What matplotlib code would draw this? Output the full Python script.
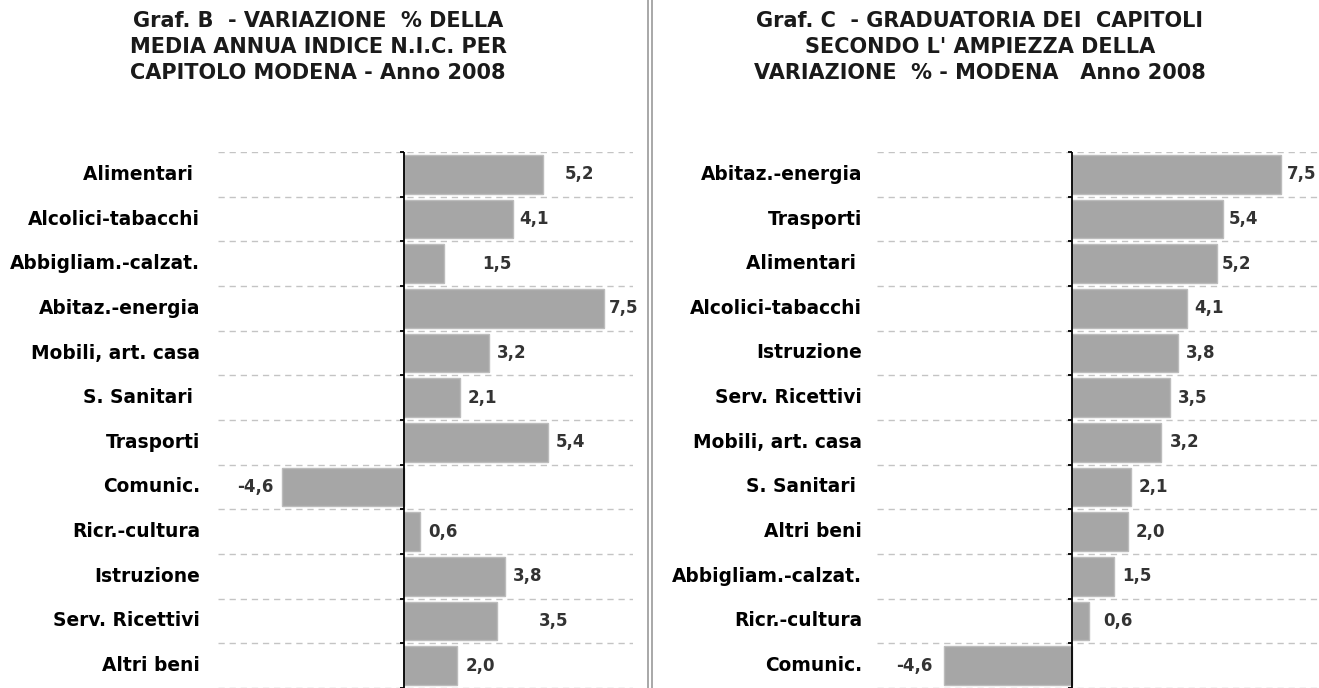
import matplotlib
matplotlib.use("Agg")
import matplotlib.pyplot as plt
from matplotlib.lines import Line2D
import matplotlib.transforms as mtransforms

# ---------------- data ----------------
cats_b = ["Alimentari ", "Alcolici-tabacchi", "Abbigliam.-calzat.", "Abitaz.-energia",
          "Mobili, art. casa", "S. Sanitari ", "Trasporti", "Comunic.",
          "Ricr.-cultura", "Istruzione", "Serv. Ricettivi", "Altri beni"]
vals_b = [5.2, 4.1, 1.5, 7.5, 3.2, 2.1, 5.4, -4.6, 0.6, 3.8, 3.5, 2.0]

cats_c = ["Abitaz.-energia", "Trasporti", "Alimentari ", "Alcolici-tabacchi",
          "Istruzione", "Serv. Ricettivi", "Mobili, art. casa", "S. Sanitari ",
          "Altri beni", "Abbigliam.-calzat.", "Ricr.-cultura", "Comunic."]
vals_c = [7.5, 5.4, 5.2, 4.1, 3.8, 3.5, 3.2, 2.1, 2.0, 1.5, 0.6, -4.6]

title_b = "Graf. B  - VARIAZIONE  % DELLA\nMEDIA ANNUA INDICE N.I.C. PER\nCAPITOLO MODENA - Anno 2008"
title_c = "Graf. C  - GRADUATORIA DEI  CAPITOLI\nSECONDO L' AMPIEZZA DELLA\nVARIAZIONE  % - MODENA   Anno 2008"

# label gaps (pixels) between bar end and value label, as in the original
gaps_b = [22, 6, 38, 5, 8, 8, 8, 8, 8, 8, 42, 8]
gaps_c = [6, 6, 5, 8, 8, 8, 8, 8, 8, 8, 14, 11]

W, H = 1319, 688
fig = plt.figure(figsize=(W / 100, H / 100), dpi=100)
fig.patch.set_facecolor("white")

BAR = "#a6a6a6"
GRID = "#c4c4c4"
LABFONT = "DejaVu Sans"


def panel(rect, cats, vals, gaps, xlim, cat_off_px):
    ax = fig.add_axes(rect)
    n = len(cats)
    pos = list(range(n))
    ax.barh(pos, vals, height=0.87, color=BAR, edgecolor="#bcbcbc", linewidth=1.0, zorder=2)
    ax.set_xlim(*xlim)
    ax.set_ylim(n - 0.5, -0.5)
    for s in ax.spines.values():
        s.set_visible(False)
    ax.set_xticks([])
    ax.set_yticks([])
    # dashed grid lines between categories
    for b in range(n + 1):
        ax.axhline(b - 0.5, color=GRID, lw=1.0, ls=(0, (4.5, 3.5)), zorder=1)
    # zero axis with small ticks
    ax.axvline(0, color="black", lw=1.3, zorder=3)
    px_unit = (rect[2] * W) / (xlim[1] - xlim[0])
    tick = 4.0 / px_unit
    for b in range(n + 1):
        ax.plot([-tick, 0], [b - 0.5, b - 0.5], color="black", lw=1.3, zorder=3,
                solid_capstyle="butt", clip_on=False)
    # category labels
    trans = mtransforms.blended_transform_factory(ax.transAxes, ax.transData)
    trans = trans + mtransforms.ScaledTranslation(cat_off_px / 100, 0, fig.dpi_scale_trans)
    for i, c in enumerate(cats):
        ax.text(0, i, c, transform=trans, ha="right", va="center",
                fontsize=13.4, fontweight="bold", family=LABFONT, color="#000000")
    # value labels
    for i, (v, g) in enumerate(zip(vals, gaps)):
        s = f"{v:.1f}".replace(".", ",")
        off = mtransforms.ScaledTranslation((g if v >= 0 else -g) / 100, 0, fig.dpi_scale_trans)
        ax.text(v, i, s, transform=ax.transData + off,
                ha="left" if v >= 0 else "right", va="center",
                fontsize=12, fontweight="bold", family=LABFONT, color="#333333",
                zorder=4, clip_on=False)
    return ax


top_px, bot_px = 152, 688
ax_h = (bot_px - top_px) / H

# left panel: axes spans x 218..633 px
panel([218 / W, 0, (633 - 218) / W, ax_h], cats_b, vals_b, gaps_b, (-7.0, 8.6), -18)
# right panel: axes spans x 877..1319 px
panel([877 / W, 0, (1319 - 877) / W, ax_h], cats_c, vals_c, gaps_c, (-7.0, 8.85), -15)

# titles
fig.text(318 / W, 1 - 47 / H, title_b, ha="center", va="center", fontsize=15,
         fontweight="bold", family="DejaVu Sans", color="#1a1a1a", linespacing=1.38)
fig.text(980 / W, 1 - 47 / H, title_c, ha="center", va="center", fontsize=15,
         fontweight="bold", family="DejaVu Sans", color="#1a1a1a", linespacing=1.38)

# double separator line
for x in (648, 652):
    fig.add_artist(Line2D([x / W, x / W], [0, 1], transform=fig.transFigure,
                          color="#9a9a9a", lw=1.2))

fig.savefig("out.png", dpi=100, facecolor="white")
